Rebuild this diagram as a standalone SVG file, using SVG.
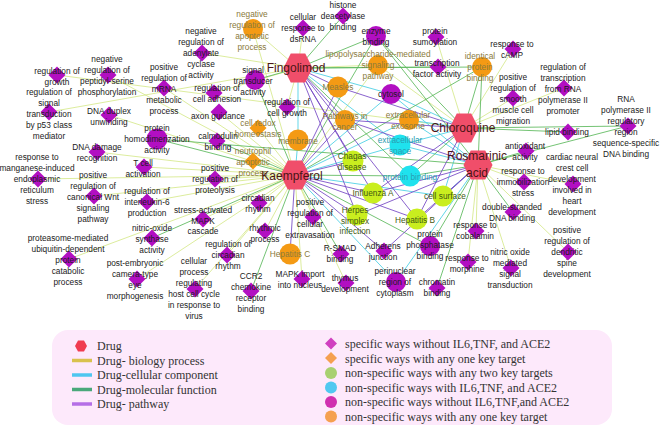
<svg xmlns="http://www.w3.org/2000/svg" xmlns:xlink="http://www.w3.org/1999/xlink" width="661" height="428" viewBox="0 0 661 428">
<style>
.eb{stroke:#d8ea92;stroke-width:1;fill:none;opacity:.9}
.em{stroke:#5cb85c;stroke-width:1;fill:none;opacity:.85}
.ec{stroke:#52d2e6;stroke-width:1;fill:none;opacity:.9}
.ep{stroke:#7446c4;stroke-width:1;fill:none;opacity:.85}
.d{fill:#b20fc2}
.do{fill:#f49a14}
.cm{fill:#b20fc2}
.co{fill:#f49a14}
.cy{fill:#c9ee1f}
.cc{fill:#1fe2ee}
.hx{fill:#f04e6a}
.t{font-family:"Liberation Sans",Arial,sans-serif;font-size:8.3px;fill:#1a1a1a;text-anchor:middle}
.to{fill:#8a7a3c}
.tg{fill:#3f5a12}
.tc{fill:#2a9cb0}
.dl{font-family:"Liberation Sans",Arial,sans-serif;font-size:12px;fill:#4a1515;text-anchor:middle}
.lg{font-family:"Liberation Serif","Times New Roman",serif;font-size:12px;fill:#333}
</style>
<defs>
<path id="dia" d="M0,-8.5L8.5,0L0,8.5L-8.5,0Z"/>
<polygon id="hex" points="-14.5,0 -7.25,-14.5 7.25,-14.5 14.5,0 7.25,14.5 -7.25,14.5"/>
</defs>
<rect width="661" height="428" fill="#ffffff"/>
<g id="connectors">
<path class="eb" d="M298 68L253 29M298 68L303 28M298 68L287 107M298 68L214 93M298 68L202 53M298 68L49 112M298 68L378 65M295 175L253 29M295 175L108 75M295 175L164 88M295 175L109 115M295 175L219 112M295 175L38 179M295 175L97 152M295 175L144 167M295 175L94 196M295 175L147 202M295 175L215 179M295 175L203 219M295 175L69 259M295 175L137 279M295 175L195 289M295 175L259 203M295 175L227 255M295 175L265 231M295 175L302 279M295 175L313 217M295 175L346 283M295 175L258 128M295 175L253 161M295 175L378 65M464 128L57 75M464 128L436 37M464 128L513 49M464 128L513 98M464 128L564 88M464 128L378 65M478 165L573 184M478 165L524 182M478 165L476 231M478 165L568 252M478 165L468 262M478 165L511 268"/>
<path class="ec" d="M298 68L391 94M298 68L400 145M298 68L298 140M295 175L298 140M295 175L400 145M295 175L409 120M295 175L391 94M295 175L443 196M295 175L396 282M464 128L391 94M464 128L409 120M464 128L400 145M464 128L443 196M478 165L443 196M478 165L400 145M478 165L396 282M478 165L409 120M478 165L391 94"/>
<path class="em" d="M298 68L343 16M298 68L376 36M298 68L255 80M298 68L438 67M298 68L482 67M298 68L410 176M295 175L255 80M295 175L217 141M295 175L157 139M295 175L152 238M295 175L251 291M295 175L341 254M295 175L430 246M295 175L410 176M295 175L376 36M295 175L482 67M464 128L628 126M464 128L568 132M464 128L482 67M464 128L376 36M464 128L410 176M478 165L526 151M478 165L513 212M478 165L437 288M478 165L430 246M478 165L628 126M478 165L410 176M478 165L482 67M478 165L376 36M478 165L157 139"/>
<path class="ep" d="M298 68L338 87M298 68L345 120M298 68L353 161M298 68L373 193M298 68L357 215M298 68L417 219M295 175L338 87M295 175L345 120M295 175L353 161M295 175L373 193M295 175L357 215M295 175L417 219M295 175L290 254M295 175L384 251M464 128L338 87M464 128L345 120M464 128L417 219M464 128L373 193M478 165L417 219M478 165L357 215M478 165L345 120M478 165L384 251M478 165L373 193"/>
</g>
<g id="nodes">
<g id="n_negapop"><circle class="co" cx="253" cy="29" r="10"/><text class="t to" y="17"><tspan x="252">negative</tspan><tspan x="252" dy="11">regulation of</tspan><tspan x="252" dy="11">apoptotic</tspan><tspan x="252" dy="11">process</tspan></text></g>
<g id="n_dsrna"><use xlink:href="#dia" class="d" x="303" y="28"/><text class="t" y="20"><tspan x="303">cellular</tspan><tspan x="303" dy="11">response to</tspan><tspan x="303" dy="11">dsRNA</tspan></text></g>
<g id="n_hdac"><use xlink:href="#dia" class="d" x="343" y="16"/><text class="t" y="8"><tspan x="343">histone</tspan><tspan x="343" dy="11">deacetylase</tspan><tspan x="343" dy="11">binding</tspan></text></g>
<g id="n_enzyme"><circle class="cm" cx="376" cy="36" r="10"/><text class="t" y="34"><tspan x="376">enzyme</tspan><tspan x="376" dy="11">binding</tspan></text></g>
<g id="n_sumo"><use xlink:href="#dia" class="d" x="436" y="37"/><text class="t" y="34"><tspan x="435">protein</tspan><tspan x="435" dy="11">sumoylation</tspan></text></g>
<g id="n_camp"><use xlink:href="#dia" class="d" x="513" y="49"/><text class="t" y="47"><tspan x="512">response to</tspan><tspan x="512" dy="11">cAMP</tspan></text></g>
<g id="n_lps"><circle class="co" cx="378" cy="65" r="10"/><text class="t to" y="57"><tspan x="378">lipopolysaccharide-mediated</tspan><tspan x="378" dy="11">signaling</tspan><tspan x="378" dy="11">pathway</tspan></text></g>
<g id="n_tfa"><use xlink:href="#dia" class="d" x="438" y="67"/><text class="t" y="66"><tspan x="437">transcription</tspan><tspan x="437" dy="11">factor activity</tspan></text></g>
<g id="n_ident"><circle class="co" cx="482" cy="67" r="10"/><text class="t to" y="59"><tspan x="480">identical</tspan><tspan x="480" dy="11">protein</tspan><tspan x="480" dy="11">binding</tspan></text></g>
<g id="n_sta"><circle class="cm" cx="255" cy="80" r="10"/><text class="t" y="73"><tspan x="253">signal</tspan><tspan x="253" dy="11">transducer</tspan><tspan x="253" dy="11">activity</tspan></text></g>
<g id="n_adcy"><use xlink:href="#dia" class="d" x="202" y="53"/><text class="t" y="34"><tspan x="201">negative</tspan><tspan x="201" dy="11">regulation of</tspan><tspan x="201" dy="11">adenylate</tspan><tspan x="201" dy="11">cyclase</tspan><tspan x="201" dy="11">activity</tspan></text></g>
<g id="n_mrna"><use xlink:href="#dia" class="d" x="164" y="88"/><text class="t" y="70"><tspan x="164">positive</tspan><tspan x="164" dy="11">regulation of</tspan><tspan x="164" dy="11">mRNA</tspan><tspan x="164" dy="11">metabolic</tspan><tspan x="164" dy="11">process</tspan></text></g>
<g id="n_pser"><use xlink:href="#dia" class="d" x="108" y="75"/><text class="t" y="62"><tspan x="107">negative</tspan><tspan x="107" dy="11">regulation of</tspan><tspan x="107" dy="11">peptidyl-serine</tspan><tspan x="107" dy="11">phosphorylation</tspan></text></g>
<g id="n_growth"><use xlink:href="#dia" class="d" x="57" y="75"/><text class="t" y="74"><tspan x="57">regulation of</tspan><tspan x="57" dy="11">growth</tspan></text></g>
<g id="n_p53"><use xlink:href="#dia" class="d" x="49" y="112"/><text class="t" y="95"><tspan x="49">regulation of</tspan><tspan x="49" dy="11">signal</tspan><tspan x="49" dy="11">transduction</tspan><tspan x="49" dy="11">by p53 class</tspan><tspan x="49" dy="11">mediator</tspan></text></g>
<g id="n_dnadup"><use xlink:href="#dia" class="d" x="109" y="115"/><text class="t" y="114"><tspan x="109">DNA duplex</tspan><tspan x="109" dy="11">unwinding</tspan></text></g>
<g id="n_adh"><use xlink:href="#dia" class="d" x="214" y="93"/><text class="t" y="91"><tspan x="217">regulation of</tspan><tspan x="217" dy="11">cell adhesion</tspan></text></g>
<g id="n_axon"><use xlink:href="#dia" class="d" x="219" y="112"/><text class="t" y="119"><tspan x="218">axon guidance</tspan></text></g>
<g id="n_cgrowth"><use xlink:href="#dia" class="d" x="287" y="107"/><text class="t" y="105"><tspan x="287">regulation of</tspan><tspan x="287" dy="11">cell growth</tspan></text></g>
<g id="n_measles"><circle class="co" cx="338" cy="87" r="10.5"/><text class="t to" y="90"><tspan x="338">Measles</tspan></text></g>
<g id="n_cytosol"><circle class="cm" cx="391" cy="94" r="10"/><text class="t" y="97"><tspan x="391">cytosol</tspan></text></g>
<g id="n_pic"><circle class="co" cx="345" cy="120" r="10"/><text class="t to" y="119"><tspan x="345">Pathways in</tspan><tspan x="345" dy="11">cancer</tspan></text></g>
<g id="n_exo"><circle class="co" cx="409" cy="120" r="10"/><text class="t to" y="118"><tspan x="408">extracellular</tspan><tspan x="408" dy="11">exosome</tspan></text></g>
<g id="n_smc"><use xlink:href="#dia" class="d" x="513" y="98"/><text class="t" y="80"><tspan x="513">positive</tspan><tspan x="513" dy="11">regulation of</tspan><tspan x="513" dy="11">smooth</tspan><tspan x="513" dy="11">muscle cell</tspan><tspan x="513" dy="11">migration</tspan></text></g>
<g id="n_rnap"><use xlink:href="#dia" class="d" x="564" y="88"/><text class="t" y="70"><tspan x="563">regulation of</tspan><tspan x="563" dy="11">transcription</tspan><tspan x="563" dy="11">from RNA</tspan><tspan x="563" dy="11">polymerase II</tspan><tspan x="563" dy="11">promoter</tspan></text></g>
<g id="n_rnareg"><use xlink:href="#dia" class="d" x="628" y="126"/><text class="t" y="102"><tspan x="626">RNA</tspan><tspan x="626" dy="11">polymerase II</tspan><tspan x="626" dy="11">regulatory</tspan><tspan x="626" dy="11">region</tspan><tspan x="626" dy="11">sequence-specific</tspan><tspan x="626" dy="11">DNA binding</tspan></text></g>
<g id="n_lipid"><use xlink:href="#dia" class="d" x="568" y="132"/><text class="t" y="135"><tspan x="567">lipid binding</tspan></text></g>
<g id="n_antiox"><use xlink:href="#dia" class="d" x="526" y="151"/><text class="t" y="149"><tspan x="525">antioxidant</tspan><tspan x="525" dy="11">activity</tspan></text></g>
<g id="n_cardiac"><use xlink:href="#dia" class="d" x="573" y="184"/><text class="t" y="160"><tspan x="572">cardiac neural</tspan><tspan x="572" dy="11">crest cell</tspan><tspan x="572" dy="11">development</tspan><tspan x="572" dy="11">involved in</tspan><tspan x="572" dy="11">heart</tspan><tspan x="572" dy="11">development</tspan></text></g>
<g id="n_immob"><use xlink:href="#dia" class="d" x="524" y="182"/><text class="t" y="174"><tspan x="523">response to</tspan><tspan x="523" dy="11">immobilization</tspan><tspan x="523" dy="11">stress</tspan></text></g>
<g id="n_dsdna"><use xlink:href="#dia" class="d" x="513" y="212"/><text class="t" y="210"><tspan x="512">double-stranded</tspan><tspan x="512" dy="11">DNA binding</tspan></text></g>
<g id="n_surface"><circle class="cy" cx="443" cy="196" r="10.5"/><text class="t tg" y="199"><tspan x="445">cell surface</tspan></text></g>
<g id="n_cobal"><use xlink:href="#dia" class="d" x="476" y="231"/><text class="t" y="228"><tspan x="475">response to</tspan><tspan x="475" dy="11">cobalamin</tspan></text></g>
<g id="n_dendr"><use xlink:href="#dia" class="d" x="568" y="252"/><text class="t" y="233"><tspan x="567">positive</tspan><tspan x="567" dy="11">regulation of</tspan><tspan x="567" dy="11">dendritic</tspan><tspan x="567" dy="11">spine</tspan><tspan x="567" dy="11">development</tspan></text></g>
<g id="n_morph"><use xlink:href="#dia" class="d" x="468" y="262"/><text class="t" y="261"><tspan x="467">response to</tspan><tspan x="467" dy="11">morphine</tspan></text></g>
<g id="n_nomed"><use xlink:href="#dia" class="d" x="511" y="268"/><text class="t" y="255"><tspan x="510">nitric oxide</tspan><tspan x="510" dy="11">mediated</tspan><tspan x="510" dy="11">signal</tspan><tspan x="510" dy="11">transduction</tspan></text></g>
<g id="n_chrom"><use xlink:href="#dia" class="d" x="437" y="288"/><text class="t" y="285"><tspan x="437">chromatin</tspan><tspan x="437" dy="11">binding</tspan></text></g>
<g id="n_ppb"><circle class="cm" cx="430" cy="246" r="10"/><text class="t" y="237"><tspan x="430">protein</tspan><tspan x="430" dy="11">phosphatase</tspan><tspan x="430" dy="11">binding</tspan></text></g>
<g id="n_adherens"><use xlink:href="#dia" class="d" x="384" y="251"/><text class="t" y="249"><tspan x="383">Adherens</tspan><tspan x="383" dy="11">junction</tspan></text></g>
<g id="n_perinuc"><circle class="cm" cx="396" cy="282" r="10"/><text class="t" y="274"><tspan x="395">perinuclear</tspan><tspan x="395" dy="11">region of</tspan><tspan x="395" dy="11">cytoplasm</tspan></text></g>
<g id="n_rsmad"><use xlink:href="#dia" class="d" x="341" y="254"/><text class="t" y="251"><tspan x="340">R-SMAD</tspan><tspan x="340" dy="11">binding</tspan></text></g>
<g id="n_thymus"><use xlink:href="#dia" class="d" x="346" y="283"/><text class="t" y="281"><tspan x="345">thymus</tspan><tspan x="345" dy="11">development</tspan></text></g>
<g id="n_mapkimp"><use xlink:href="#dia" class="d" x="302" y="279"/><text class="t" y="277"><tspan x="300">MAPK import</tspan><tspan x="300" dy="11">into nucleus</tspan></text></g>
<g id="n_hepc"><circle class="co" cx="290" cy="254" r="10.5"/><text class="t to" y="257"><tspan x="290">Hepatitis C</tspan></text></g>
<g id="n_ccr2"><use xlink:href="#dia" class="d" x="251" y="291"/><text class="t" y="279"><tspan x="251">CCR2</tspan><tspan x="251" dy="11">chemokine</tspan><tspan x="251" dy="11">receptor</tspan><tspan x="251" dy="11">binding</tspan></text></g>
<g id="n_rhythmic"><use xlink:href="#dia" class="d" x="265" y="231"/><text class="t" y="231"><tspan x="265">rhythmic</tspan><tspan x="265" dy="11">process</tspan></text></g>
<g id="n_extrav"><use xlink:href="#dia" class="d" x="313" y="217"/><text class="t" y="205"><tspan x="310">positive</tspan><tspan x="310" dy="11">regulation of</tspan><tspan x="310" dy="11">cellular</tspan><tspan x="310" dy="11">extravasation</tspan></text></g>
<g id="n_herpes"><circle class="cy" cx="357" cy="215" r="10.5"/><text class="t tg" y="213"><tspan x="355">Herpes</tspan><tspan x="355" dy="10.5">simplex</tspan><tspan x="355" dy="10.5">infection</tspan></text></g>
<g id="n_hepb"><circle class="cy" cx="417" cy="219" r="10.5"/><text class="t tg" y="223"><tspan x="415">Hepatitis B</tspan></text></g>
<g id="n_flu"><circle class="cy" cx="373" cy="193" r="10.5"/><text class="t tg" y="196"><tspan x="373">Influenza A</tspan></text></g>
<g id="n_chagas"><circle class="cy" cx="353" cy="161" r="10.5"/><text class="t tg" y="159"><tspan x="352">Chagas</tspan><tspan x="352" dy="11">disease</tspan></text></g>
<g id="n_pbind"><circle class="cc" cx="410" cy="176" r="10.5"/><text class="t tc" y="180"><tspan x="410">protein binding</tspan></text></g>
<g id="n_espace"><circle class="cc" cx="400" cy="145" r="10.5"/><text class="t tc" y="143"><tspan x="400">extracellular</tspan><tspan x="400" dy="11">space</tspan></text></g>
<g id="n_membrane"><circle class="co" cx="298" cy="140" r="10.5"/><text class="t to" y="144"><tspan x="298">membrane</tspan></text></g>
<g id="n_redox"><use xlink:href="#dia" class="do" x="258" y="128"/><text class="t to" y="126"><tspan x="258">cell redox</tspan><tspan x="258" dy="11">homeostasis</tspan></text></g>
<g id="n_neutro"><use xlink:href="#dia" class="do" x="253" y="161"/><text class="t to" y="154"><tspan x="253">neutrophil</tspan><tspan x="253" dy="11">apoptotic</tspan><tspan x="253" dy="11">process</tspan></text></g>
<g id="n_circ"><use xlink:href="#dia" class="d" x="259" y="203"/><text class="t" y="201"><tspan x="258">circadian</tspan><tspan x="258" dy="11">rhythm</tspan></text></g>
<g id="n_regcirc"><use xlink:href="#dia" class="d" x="227" y="255"/><text class="t" y="247"><tspan x="228">regulation of</tspan><tspan x="228" dy="11">circadian</tspan><tspan x="228" dy="11">rhythm</tspan></text></g>
<g id="n_hostcc"><use xlink:href="#dia" class="d" x="195" y="289"/><text class="t" y="264"><tspan x="194">cellular</tspan><tspan x="194" dy="11">process</tspan><tspan x="194" dy="11">regulating</tspan><tspan x="194" dy="11">host cell cycle</tspan><tspan x="194" dy="11">in response to</tspan><tspan x="194" dy="11">virus</tspan></text></g>
<g id="n_eye"><use xlink:href="#dia" class="d" x="137" y="279"/><text class="t" y="266"><tspan x="135">post-embryonic</tspan><tspan x="135" dy="11">camera-type</tspan><tspan x="135" dy="11">eye</tspan><tspan x="135" dy="11">morphogenesis</tspan></text></g>
<g id="n_proteas"><use xlink:href="#dia" class="d" x="69" y="259"/><text class="t" y="241"><tspan x="68">proteasome-mediated</tspan><tspan x="68" dy="11">ubiquitin-dependent</tspan><tspan x="68" dy="11">protein</tspan><tspan x="68" dy="11">catabolic</tspan><tspan x="68" dy="11">process</tspan></text></g>
<g id="n_nos"><use xlink:href="#dia" class="d" x="152" y="238"/><text class="t" y="231"><tspan x="152">nitric-oxide</tspan><tspan x="152" dy="11">synthase</tspan><tspan x="152" dy="11">activity</tspan></text></g>
<g id="n_mapk"><use xlink:href="#dia" class="d" x="203" y="219"/><text class="t" y="213"><tspan x="203">stress-activated</tspan><tspan x="203" dy="10.5">MAPK</tspan><tspan x="203" dy="10.5">cascade</tspan></text></g>
<g id="n_il6"><use xlink:href="#dia" class="d" x="147" y="202"/><text class="t" y="194"><tspan x="147">regulation of</tspan><tspan x="147" dy="11">interleukin-6</tspan><tspan x="147" dy="11">production</tspan></text></g>
<g id="n_wnt"><use xlink:href="#dia" class="d" x="94" y="196"/><text class="t" y="178"><tspan x="93">positive</tspan><tspan x="93" dy="11">regulation of</tspan><tspan x="93" dy="11">canonical Wnt</tspan><tspan x="93" dy="11">signaling</tspan><tspan x="93" dy="11">pathway</tspan></text></g>
<g id="n_mang"><use xlink:href="#dia" class="d" x="38" y="179"/><text class="t" y="160"><tspan x="37">response to</tspan><tspan x="37" dy="11">manganese-induced</tspan><tspan x="37" dy="11">endoplasmic</tspan><tspan x="37" dy="11">reticulum</tspan><tspan x="37" dy="11">stress</tspan></text></g>
<g id="n_dnadmg"><use xlink:href="#dia" class="d" x="97" y="152"/><text class="t" y="150"><tspan x="97">DNA damage</tspan><tspan x="97" dy="11">recognition</tspan></text></g>
<g id="n_tcell"><use xlink:href="#dia" class="d" x="144" y="167"/><text class="t" y="166"><tspan x="143">T cell</tspan><tspan x="143" dy="11">activation</tspan></text></g>
<g id="n_homod"><circle class="cm" cx="157" cy="139" r="10.5"/><text class="t" y="131"><tspan x="157">protein</tspan><tspan x="157" dy="11">homodimerization</tspan><tspan x="157" dy="11">activity</tspan></text></g>
<g id="n_calmod"><use xlink:href="#dia" class="d" x="217" y="141"/><text class="t" y="139"><tspan x="218">calmodulin</tspan><tspan x="218" dy="11">binding</tspan></text></g>
<g id="n_proteol"><use xlink:href="#dia" class="d" x="215" y="179"/><text class="t" y="171"><tspan x="215">positive</tspan><tspan x="215" dy="11">regulation of</tspan><tspan x="215" dy="11">proteolysis</tspan></text></g>
<g id="d_fingolimod"><use xlink:href="#hex" class="hx" x="298" y="68"/><text class="dl" x="296" y="72">Fingolimod</text></g>
<g id="d_kaempferol"><use xlink:href="#hex" class="hx" x="295" y="175"/><text class="dl" x="292" y="180">Kaempferol</text></g>
<g id="d_chloroquine"><use xlink:href="#hex" class="hx" x="464" y="128"/><text class="dl" x="463" y="132">Chloroquine</text></g>
<g id="d_rosmarinic"><use xlink:href="#hex" class="hx" x="478" y="165"/><text class="dl" x="477" y="160">Rosmarinic</text><text class="dl" x="477" y="177">acid</text></g>
</g>
<g id="legend">
<rect x="52" y="330" width="560" height="95" rx="16" fill="#fde9fb"/>
<polygon points="75,346 78,340.5 84,340.5 87,346 84,351.5 78,351.5" fill="#f03c50"/>
<line x1="72" y1="360.5" x2="92" y2="360.5" stroke="#d9c24e" stroke-width="3.5"/>
<line x1="72" y1="375" x2="92" y2="375" stroke="#4fc6f0" stroke-width="3.5"/>
<line x1="72" y1="389.5" x2="92" y2="389.5" stroke="#4aa87a" stroke-width="3.5"/>
<line x1="72" y1="404" x2="92" y2="404" stroke="#b56ee6" stroke-width="3.5"/>
<text class="lg" x="97" y="350">Drug</text>
<text class="lg" x="97" y="364.5">Drug- biology process</text>
<text class="lg" x="97" y="379">Drug-cellular component</text>
<text class="lg" x="97" y="393.5">Drug-molecular function</text>
<text class="lg" x="97" y="408">Drug- pathway</text>
<path d="M331,337.5L337,343.5L331,349.5L325,343.5Z" fill="#d040c0"/>
<path d="M331,352L337,358L331,364L325,358Z" fill="#f5a050"/>
<circle cx="331" cy="373" r="6" fill="#a8d070"/>
<circle cx="331" cy="387.5" r="6" fill="#50c8f0"/>
<circle cx="331" cy="402" r="6" fill="#d030b0"/>
<circle cx="331" cy="416.5" r="6" fill="#f5a050"/>
<text class="lg" x="345" y="348">specific ways without IL6,TNF, and ACE2</text>
<text class="lg" x="345" y="362.5">specific ways with any one key target</text>
<text class="lg" x="345" y="377">non-specific ways with any two key targets</text>
<text class="lg" x="345" y="391.5">non-specific ways with IL6,TNF, and ACE2</text>
<text class="lg" x="345" y="406">non-specific ways without IL6,TNF,and ACE2</text>
<text class="lg" x="345" y="420.5">non-specific ways with any one key target</text>
</g>
</svg>
